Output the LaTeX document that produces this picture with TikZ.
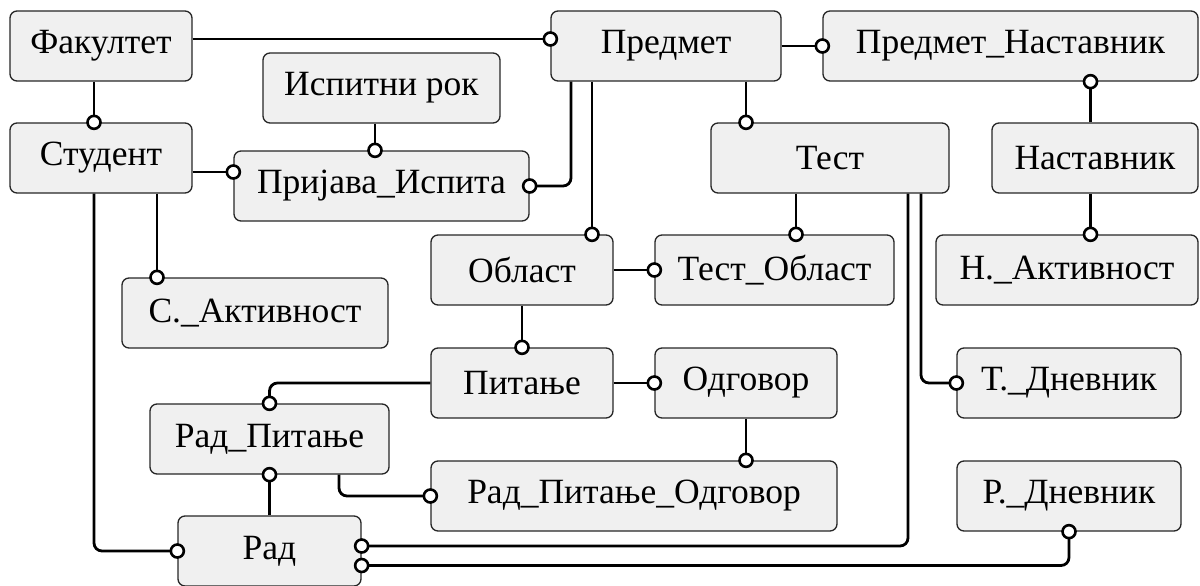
\documentclass[tikz,border=0pt]{standalone}
\usepackage{fontspec}
\setmainfont{Liberation Serif}
\usetikzlibrary{calc}
\begin{document}
\begin{tikzpicture}[x=1pt,y=-1pt,
  ent/.style={draw=black!85, line width=1.3pt, fill=black!6, rounded corners=7pt,
    inner sep=0pt, minimum height=70pt, font=\fontsize{35.5}{40}\selectfont},
  conn/.style={line width=2.8pt, rounded corners=8pt},
  circ/.style={circle, draw=black, fill=white, line width=2.6pt, inner sep=0pt,
    minimum size=13pt, rounded corners=0pt}]
\useasboundingbox (0,0) rectangle (1200,586);
% entities
\node[ent, minimum width=182pt] (fak)  at (101,46)    {Факултет};
\node[ent, minimum width=230pt] (pred) at (666,46)    {Предмет};
\node[ent, minimum width=375pt] (pn)   at (1010.5,46) {Предмет\_Наставник};
\node[ent, minimum width=237pt] (isp)  at (381.5,88)  {Испитни рок};
\node[ent, minimum width=182pt] (stud) at (101,158)   {Студент};
\node[ent, minimum width=295pt] (prij) at (381.5,186) {Пријава\_Испита};
\node[ent, minimum width=238pt] (test) at (830,158)   {Тест};
\node[ent, minimum width=206pt] (nast) at (1095,158)  {Наставник};
\node[ent, minimum width=182pt] (obl)  at (522,270)   {Област};
\node[ent, minimum width=239pt] (to)   at (774.5,270) {Тест\_Област};
\node[ent, minimum width=262pt] (na)   at (1067,270)  {Н.\_Активност};
\node[ent, minimum width=266pt] (sa)   at (255,313)   {С.\_Активност};
\node[ent, minimum width=182pt] (pit)  at (522,383)   {Питање};
\node[ent, minimum width=182pt] (odg)  at (746,383)   {Одговор};
\node[ent, minimum width=224pt] (td)   at (1069,383)  {Т.\_Дневник};
\node[ent, minimum width=239pt] (rp)   at (269.5,439) {Рад\_Питање};
\node[ent, minimum width=406pt] (rpo)  at (634,496)   {Рад\_Питање\_Одговор};
\node[ent, minimum width=224pt] (rd)   at (1069,496)  {Р.\_Дневник};
\node[ent, minimum width=183pt] (rad)  at (269.5,551) {Рад};
% helper coordinate
\coordinate (m4) at ($(stud.east)!0.5!(prij.west)$);
% connectors (circle marks the many side)
\draw[conn] ([yshift=7pt]fak.east) -- ([yshift=7pt]pred.west) node[circ]{};
\draw[conn] ([xshift=-7pt]fak.south) -- ([xshift=-7pt]stud.north) node[circ]{};
\draw[conn] ([xshift=-6.5pt]isp.south) -- ([xshift=-6.5pt]prij.north) node[circ]{};
\draw[conn] (stud.east |- m4) -- (prij.west |- m4) node[circ]{};
\draw[conn] ([xshift=-95pt]pred.south) |- (prij.east) node[circ]{};
\draw[conn] ([xshift=-74pt]pred.south) -- ([xshift=-74pt]pred.south |- obl.north) node[circ]{};
\draw[conn] ([xshift=80pt]pred.south) -- ([xshift=80pt]pred.south |- test.north) node[circ]{};
\draw[conn] (pred.east) -- (pn.west) node[circ]{};
\draw[conn] ([xshift=-4.5pt]nast.north) -- ([xshift=-4.5pt]nast.north |- pn.south) node[circ]{};
\draw[conn] ([xshift=-4.5pt]nast.south) -- ([xshift=-4.5pt]nast.south |- na.north) node[circ]{};
\draw[conn] ([xshift=-34pt]test.south) -- ([xshift=-34pt]test.south |- to.north) node[circ]{};
\draw[conn] (obl.east) -- (to.west) node[circ]{};
\draw[conn] ([xshift=56pt]stud.south) -- ([xshift=56pt]stud.south |- sa.north) node[circ]{};
\draw[conn] ([xshift=-7pt]stud.south) |- (rad.west) node[circ]{};
\draw[conn] (obl.south) -- (pit.north) node[circ]{};
\draw[conn] (pit.west) -| (rp.north) node[circ]{};
\draw[conn] (pit.east) -- (odg.west) node[circ]{};
\draw[conn] (odg.south) -- (odg.south |- rpo.north) node[circ]{};
\draw[conn] ([xshift=69.5pt]rp.south) |- (rpo.west) node[circ]{};
\draw[conn] (rad.north) -- (rp.south) node[circ]{};
\draw[conn] ([xshift=78pt]test.south) |- ([yshift=5pt]rad.east) node[circ]{};
\draw[conn] ([xshift=91pt]test.south) |- (td.west) node[circ]{};
\draw[conn] (rd.south) node[circ]{} |- ([yshift=-14.5pt]rad.east) node[circ]{};
\end{tikzpicture}
\end{document}
